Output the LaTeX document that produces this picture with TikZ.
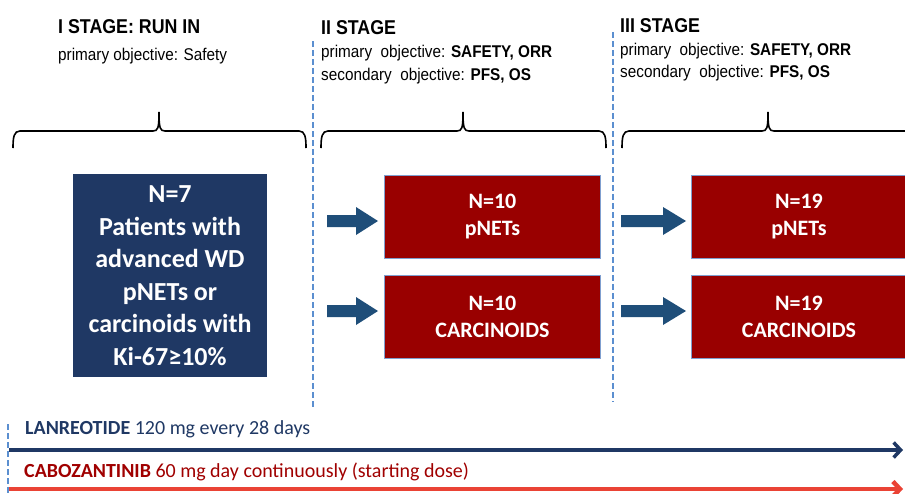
\documentclass[tikz,border=0pt]{standalone}
\usepackage{graphicx}
\usepackage{fontspec}
\setmainfont{Liberation Sans}
\newfontfamily\arialn{Liberation Sans}[FakeStretch=0.9]
\newfontfamily\calib{Carlito}
\usetikzlibrary{arrows.meta,calc}
\definecolor{navybox}{HTML}{1F3864}
\definecolor{arrowblue}{HTML}{1F4E79}
\definecolor{boxred}{HTML}{990000}
\definecolor{boxedge}{HTML}{7F9FCF}
\definecolor{dashblue}{HTML}{5B8FD0}
\definecolor{navyline}{HTML}{1F3864}
\definecolor{darkred}{HTML}{A00000}
\definecolor{redline}{HTML}{EA4335}
\newcommand\stagebrace[3]{%
  \draw[bracestyle] (#1,148) .. controls (#1,137) and (#1+1,131) .. (#1+7,131)
    -- (#2-6,131) .. controls (#2-1,131) and (#2,128) .. (#2,112)
    .. controls (#2,128) and (#2+1,131) .. (#2+6,131)
    -- (#3-7,131) .. controls (#3-1,131) and (#3,137) .. (#3,148);}
\newcommand\narrowtitle[1]{\scalebox{0.89}[1]{\bfseries\fontsize{20}{24}\selectfont #1}}
\begin{document}
\begin{tikzpicture}[x=1pt,y=-1pt,
  bracestyle/.style={line width=1.6pt,black},
  stagetitle/.style={anchor=base west,inner sep=0pt},
  objtext/.style={anchor=base west,inner sep=0pt,font=\arialn\fontsize{17}{20}\selectfont},
  stagesep/.style={dashblue,line width=1.5pt,dash pattern=on 6pt off 3pt},
  bluebox/.style={fill=navybox,draw=none,text=white,minimum width=194pt,minimum height=203pt,
    align=center,inner sep=0pt,font=\calib\bfseries\fontsize{26}{32.5}\selectfont},
  redbox/.style={fill=boxred,draw=boxedge,line width=0.8pt,text=white,minimum width=216pt,
    minimum height=83pt,align=center,inner sep=0pt,font=\calib\bfseries\fontsize{22}{27}\selectfont},
  blockarr/.style={fill=arrowblue},
  drugtext/.style={anchor=base west,inner sep=0pt,font=\calib\fontsize{20}{24}\selectfont},
  drugline/.style={line width=#1,-{Straight Barb[length=7pt,width=15pt]}}
]
\useasboundingbox (0,0) rectangle (905,493);

% stage headers
\node[stagetitle] (t1) at (58,33) {\narrowtitle{I STAGE: RUN IN}};
\node[objtext] (o1) at (58,60) {primary objective: Safety};
\node[stagetitle] (t2) at (321,34) {\narrowtitle{II STAGE}};
\node[objtext] (o2a) at (321,57) {primary\ \ objective: \textbf{SAFETY, ORR}};
\node[objtext] (o2b) at (321,80) {secondary\ \ objective: \textbf{PFS, OS}};
\node[stagetitle] (t3) at (620,32) {\narrowtitle{III STAGE}};
\node[objtext] (o3a) at (620,55) {primary\ \ objective: \textbf{SAFETY, ORR}};
\node[objtext] (o3b) at (620,77) {secondary\ \ objective: \textbf{PFS, OS}};

% braces
\stagebrace{13}{159}{306}
\stagebrace{321}{463}{606}
\stagebrace{622}{768}{914}

% stage separators
\coordinate (s1top) at (313,41); \coordinate (s1bot) at (313,409);
\coordinate (s2top) at (613,32); \coordinate (s2bot) at (613,402);
\coordinate (s0top) at (8,424); \coordinate (s0bot) at (8,493);
\draw[stagesep] (s1top) -- (s1bot);
\draw[stagesep] (s2top) -- (s2bot);
\draw[stagesep] (s0top) -- (s0bot);

% boxes
\node[bluebox] (run) at (170,275.5) {N=7\\Patients with\\advanced WD\\pNETs or\\carcinoids with\\Ki-67≥10\%};
\node[redbox] (b2a) at (492.5,216.5) {N=10\\pNETs};
\node[redbox] (b2b) at (492.5,317) {N=10\\CARCINOIDS};
\node[redbox] (b3a) at (799,216.5) {N=19\\pNETs};
\node[redbox] (b3b) at (799,317) {N=19\\CARCINOIDS};

% block arrows
\foreach \xa/\xb/\xc/\yc in {327/356/378/221, 327/356/378/311, 621/663/686/221, 621/663/686/311}{
  \fill[blockarr] (\xa,\yc-6) -- (\xb,\yc-6) -- (\xb,\yc-14) -- (\xc,\yc) -- (\xb,\yc+14)
    -- (\xb,\yc+6) -- (\xa,\yc+6) -- cycle;
}

% drug timelines
\node[drugtext,text=navyline] (lan) at (25,434) {\textbf{LANREOTIDE} 120 mg every 28 days};
\node[drugtext,text=darkred] (cab) at (24,477) {\textbf{CABOZANTINIB} 60 mg day continuously (starting dose)};
\coordinate (l1a) at (9,450); \coordinate (l1b) at (903,450);
\coordinate (l2a) at (9,489); \coordinate (l2b) at (903,489);
\draw[drugline=3.5pt,navyline] (l1a) -- (l1b);
\draw[drugline=4.5pt,redline] (l2a) -- (l2b);
\end{tikzpicture}
\end{document}
